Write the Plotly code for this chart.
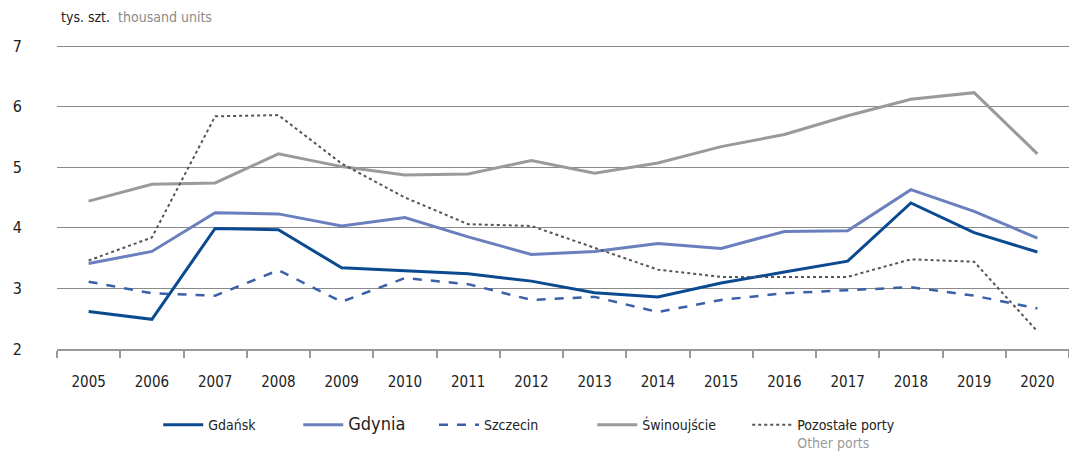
import plotly.graph_objects as go

years = [str(y) for y in range(2005, 2021)]
gdansk = [2.62, 2.49, 3.99, 3.97, 3.34, 3.29, 3.24, 3.12, 2.93, 2.86, 3.09, 3.27, 3.45, 4.41, 3.92, 3.60]
gdynia = [3.41, 3.61, 4.25, 4.23, 4.03, 4.17, 3.85, 3.56, 3.61, 3.74, 3.66, 3.94, 3.95, 4.63, 4.27, 3.83]
szczecin = [3.11, 2.92, 2.88, 3.30, 2.78, 3.17, 3.07, 2.81, 2.86, 2.61, 2.81, 2.92, 2.97, 3.02, 2.88, 2.67]
swinoujscie = [4.44, 4.72, 4.74, 5.22, 5.01, 4.87, 4.89, 5.11, 4.90, 5.07, 5.34, 5.54, 5.85, 6.12, 6.23, 5.22]
pozostale = [3.46, 3.84, 5.84, 5.86, 5.06, 4.50, 4.06, 4.03, 3.67, 3.31, 3.19, 3.19, 3.19, 3.48, 3.44, 2.29]
y_ticks = [2, 3, 4, 5, 6, 7]

FONT = "DejaVu Sans Condensed, Liberation Sans Narrow, Roboto, sans-serif"

series = [
    ("Gdańsk", gdansk, "#0b4a91", "solid", 3, "legend", 0.148, "Gdańsk"),
    ("Gdynia", gdynia, "#6a7fbe", "solid", 3, "legend2", 0.279, "<span style='font-size:18px'>Gdynia</span>"),
    ("Szczecin", szczecin, "#3a60a8", "dash", 2.5, "legend3", 0.406, "Szczecin"),
    ("Świnoujście", swinoujscie, "#9a9a9a", "solid", 3, "legend4", 0.554, "Świnoujście"),
    ("Pozostałe porty", pozostale, "#555555", "dot", 2, "legend5", 0.699,
     "Pozostałe porty<br><span style='color:#9a9a9a'>Other ports</span>"),
]

fig = go.Figure()
layout_legends = {}
for name, vals, color, dash, width, lg, lx, label in series:
    fig.add_trace(go.Scatter(
        x=years, y=vals, mode="lines", name=label,
        line=dict(color=color, dash=dash, width=width),
        legend=lg, showlegend=True,
    ))
    layout_legends[lg] = dict(
        x=lx, y=0.1066, xref="container", yref="container",
        xanchor="left", yanchor="top", orientation="h",
        font=dict(family=FONT, size=14, color="#222"), valign="top",
        bgcolor="rgba(0,0,0,0)", itemwidth=40, tracegroupgap=0,
    )

fig.update_layout(
    width=1069, height=458,
    margin=dict(l=57, r=0, t=43, b=109, autoexpand=False),
    plot_bgcolor="white", paper_bgcolor="white",
    font=dict(family=FONT, size=14, color="#222"),
    xaxis=dict(
        type="category", range=[-0.5, 15.5], tickson="boundaries",
        ticks="outside", ticklen=7, tickcolor="#999", tickwidth=1.5,
        showline=True, linecolor="#999", linewidth=1.5, automargin=False,
        showgrid=False, tickfont=dict(family=FONT, size=15, color="#222"),
        ticklabelstandoff=18, fixedrange=True,
    ),
    yaxis=dict(
        range=[2, 7.05], tickvals=y_ticks, showgrid=True, gridcolor="#8a8a8a",
        gridwidth=1, zeroline=False, showline=False, automargin=False,
        ticks="", ticklabelstandoff=34,
        tickfont=dict(family=FONT, size=16, color="#222"),
    ),
    annotations=[dict(
        x=0.0, y=1.0, xref="paper", yref="paper", xanchor="left", yanchor="bottom",
        yshift=16, xshift=2, showarrow=False, align="left",
        text="tys. szt.  <span style='color:#8a8a8a'>thousand units</span>",
        font=dict(family=FONT, size=14, color="#222"),
    )],
    **layout_legends,
)

fig.write_html(
    "out.html",
    config={"displayModeBar": False},
    post_script="document.body.style.margin='0';document.body.style.padding='0';window.dispatchEvent(new Event('resize'));",
)
